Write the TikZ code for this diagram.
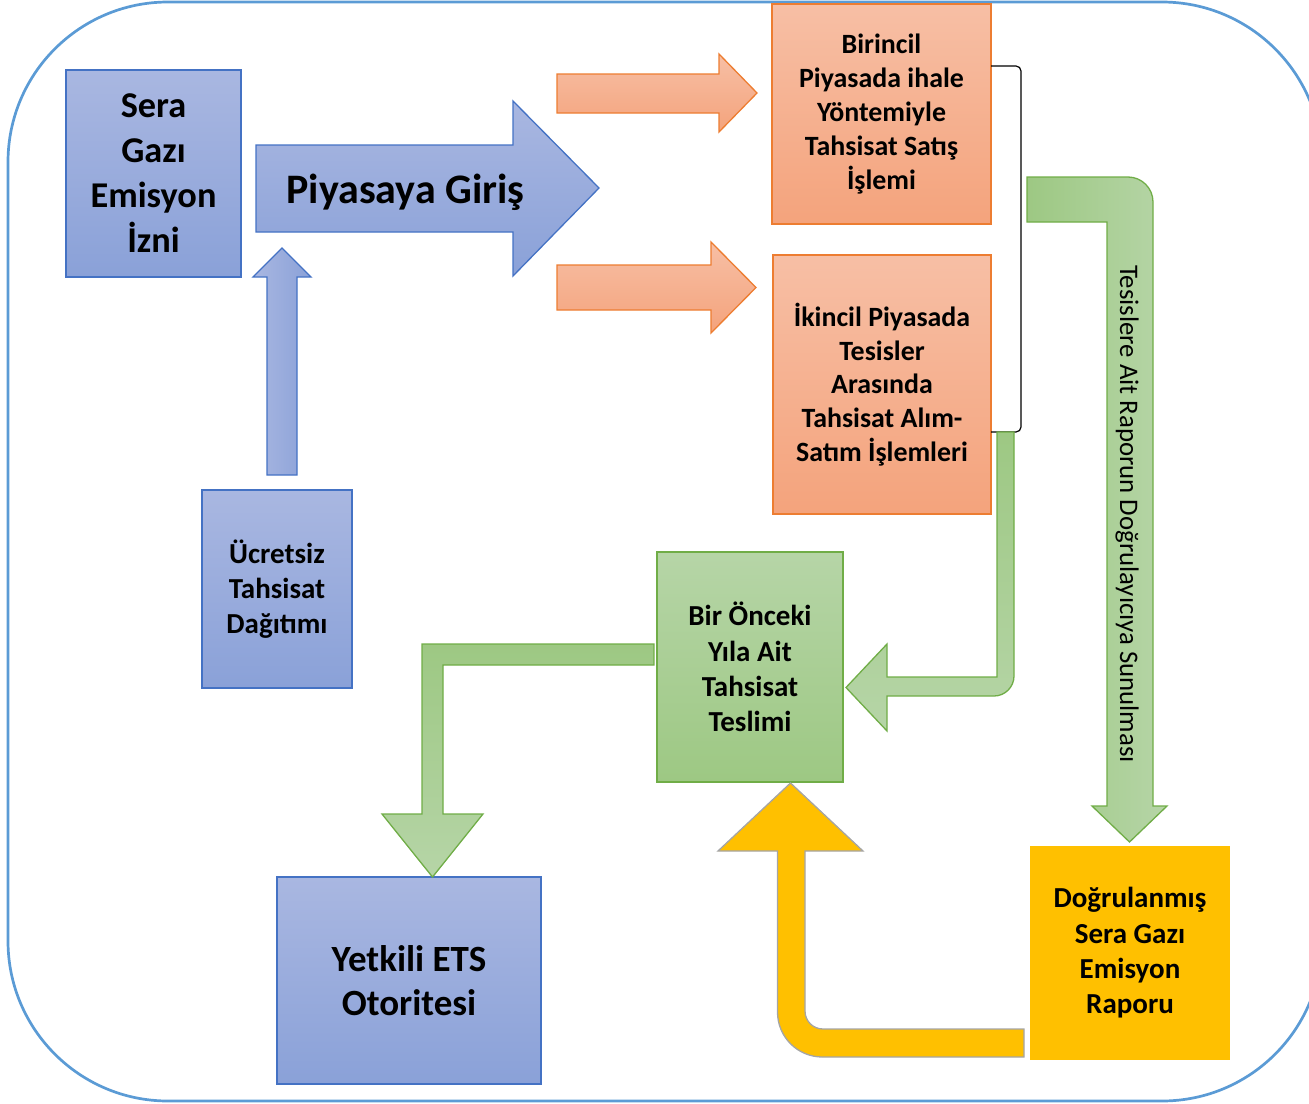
\documentclass[tikz,border=0pt]{standalone}
\usepackage{fontspec}
\setmainfont{Carlito}

\definecolor{framecol}{RGB}{91,155,213}
\definecolor{bluetop}{RGB}{169,183,225}
\definecolor{bluebot}{RGB}{138,161,216}
\definecolor{blueline}{RGB}{68,114,196}
\definecolor{orangetop}{RGB}{247,191,165}
\definecolor{orangebot}{RGB}{244,163,124}
\definecolor{orangeline}{RGB}{237,125,49}
\definecolor{greentop}{RGB}{182,213,167}
\definecolor{greenbot}{RGB}{157,200,131}
\definecolor{greenline}{RGB}{112,173,71}
\definecolor{goldfill}{RGB}{255,192,0}
\definecolor{greyline}{RGB}{165,165,165}

\tikzset{
	outerframe/.style={draw=framecol, line width=2.7pt, rounded corners=160},
	boxbase/.style={rectangle, inner sep=0pt, outer sep=0pt, align=center, line width=1.3pt},
	bluebox/.style={boxbase, draw=blueline, top color=bluetop, bottom color=bluebot},
	orangebox/.style={boxbase, draw=orangeline, top color=orangetop, bottom color=orangebot},
	greenbox/.style={boxbase, draw=greenline, top color=greentop, bottom color=greenbot},
	goldbox/.style={boxbase, draw=goldfill, fill=goldfill},
	bluearrow/.style={draw=blueline, line width=1.3pt, line join=miter},
	orangearrow/.style={draw=orangeline, line width=1.3pt, top color=orangetop, bottom color=orangebot},
	greenarrow/.style={draw=greenline, line width=1.3pt},
	goldarrow/.style={draw=greyline, line width=1.3pt, fill=goldfill},
	bigfont/.style={font=\fontsize{36.3}{45}\selectfont\bfseries},
	hugefont/.style={font=\fontsize{42}{50}\selectfont\bfseries},
	etsfont/.style={font=\fontsize{37}{44}\selectfont\bfseries},
	midfont/.style={font=\fontsize{29}{35.3}\selectfont\bfseries},
	smallfont/.style={font=\fontsize{27.9}{33.8}\selectfont\bfseries},
	sidefont/.style={font=\fontsize{26.8}{32}\selectfont}
}

\begin{document}
\begin{tikzpicture}[x=1pt, y=-1pt]

	\useasboundingbox (0,0) rectangle (1309,1103);
	\clip (0,0) rectangle (1309,1103);

	\draw[outerframe] (8,2) rectangle (1322,1101);

	% kutular
	\node[bluebox, bigfont, minimum width=175, minimum height=207] (izin) at (153.5,173.5) {Sera\\Gazı\\Emisyon\\İzni};
	\node[bluebox, midfont, minimum width=150, minimum height=198] (ucretsiz) at (277,589) {Ücretsiz\\Tahsisat\\Dağıtımı};
	\node[orangebox, smallfont, minimum width=219, minimum height=220] (birincil) at (881.5,114) {Birincil\\Piyasada ihale\\Yöntemiyle\\Tahsisat Satış\\İşlemi};
	\node[orangebox, smallfont, minimum width=218, minimum height=259] (ikincil) at (882,384.5) {İkincil Piyasada\\Tesisler\\Arasında\\Tahsisat Alım-\\Satım İşlemleri};
	\node[greenbox, midfont, minimum width=186, minimum height=230] (teslim) at (750,667) {Bir Önceki\\Yıla Ait\\Tahsisat\\Teslimi};
	\node[bluebox, etsfont, minimum width=264, minimum height=207] (ets) at (409,980.5) {Yetkili ETS\\Otoritesi};
	\node[goldbox, midfont, minimum width=198, minimum height=212] (rapor) at (1130,953) {Doğrulanmış\\Sera Gazı\\Emisyon\\Raporu};

	% piyasaya giris
	\draw[bluearrow, top color=bluetop, bottom color=bluebot] (256,145) -- (513,145) -- (513,101) -- (599,188)
		-- (513,276) -- (513,232) -- (256,232) -- cycle;
	\node[hugefont, anchor=base] (giris) at (405.5,203) {Piyasaya Giriş};
	\draw[bluearrow, left color=bluetop, right color=bluebot] (267,475) -- (267,277) -- (253,277) -- (282,248)
		-- (311,277) -- (297,277) -- (297,475) -- cycle;

	\draw[orangearrow] (557,74) -- (719,74) -- (719,54) -- (757,93) -- (719,132) -- (719,113) -- (557,113) -- cycle;
	\draw[orangearrow] (557,265) -- (711,265) -- (711,242) -- (756,287.5) -- (711,333) -- (711,310) -- (557,310) -- cycle;

	\begin{scope}[line width=1.2pt]
		\draw[black, rounded corners=5] (991,66) -| (1021,432) -- (991,432);
	\end{scope}

	% yesil oklar
	\draw[greenarrow, top color=greenbot, bottom color=greentop] (997,432) -- (1014,432) -- (1014,676)
		.. controls (1014,687) and (1005,696) .. (994,696) -- (887,696) -- (887,731) -- (846,687.5)
		-- (887,644) -- (887,677) -- (997,677) -- cycle;
	\draw[greenarrow, left color=greenbot, right color=greentop] (1027,177) -- (1128,177)
		.. controls (1141.8,177) and (1153,188.2) .. (1153,202) -- (1153,806) -- (1167,806) -- (1129.5,842)
		-- (1092,806) -- (1107,806) -- (1107,222) -- (1027,222) -- cycle;
	\node[sidefont, rotate=-90, anchor=base] (dogrulama) at (1120,514) {Tesislere Ait Raporun Doğrulayıcıya Sunulması};
	\draw[greenarrow, top color=greenbot, bottom color=greentop] (654,644) -- (422,644) -- (422,814) -- (382,814)
		-- (432.5,877) -- (483,814) -- (443,814) -- (443,665) -- (654,665) -- cycle;
%	\draw[greenarrow] (443,665) -- (443,814);

	\draw[goldarrow] (1024,1029) -- (823,1029) .. controls (813,1029) and (805,1021) .. (805,1011)
		-- (805,851) -- (863,851) -- (790.5,783) -- (718,851) -- (777.5,851) -- (777.5,1012)
		.. controls (777.5,1037) and (797.5,1057) .. (822.5,1057) -- (1024,1057) -- cycle;

	%%%%%%%%%%%%%%%%%%%%%%%%%%%%%%%%%%%%%%%%%%%%%%%%%%%%%%%

\end{tikzpicture}
\end{document}
